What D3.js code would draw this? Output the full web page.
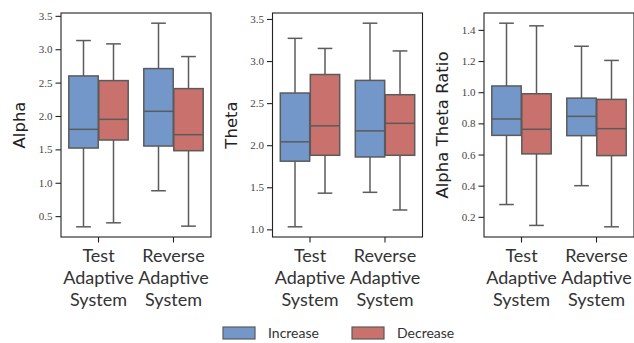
<!DOCTYPE html>
<html>
<head>
<meta charset="utf-8">
<script src="https://cdn.jsdelivr.net/npm/d3@7"></script>
<style>
  body { margin: 0; background: #fff; }
  svg { display: block; }
</style>
</head>
<body>
<div id="chart"></div>
<script>
// categories and hue levels
var groups = ["Test Adaptive System", "Reverse Adaptive System"];
var groupLines = [["Test", "Adaptive", "System"], ["Reverse", "Adaptive", "System"]];
var hues = ["Increase", "Decrease"];

// box stats per group/hue: [whisker low, q1, median, q3, whisker high]
var alphaStats = [
  [[0.34, 1.52, 1.80, 2.60, 3.13], [0.40, 1.64, 1.95, 2.53, 3.08]],
  [[0.88, 1.55, 2.07, 2.71, 3.39], [0.35, 1.48, 1.72, 2.41, 2.89]]
];
var thetaStats = [
  [[1.03, 1.81, 2.04, 2.62, 3.27], [1.43, 1.88, 2.23, 2.84, 3.15]],
  [[1.44, 1.86, 2.17, 2.77, 3.45], [1.23, 1.88, 2.26, 2.60, 3.12]]
];
var ratioStats = [
  [[0.279, 0.723, 0.828, 1.040, 1.443], [0.145, 0.604, 0.762, 0.990, 1.426]],
  [[0.400, 0.721, 0.845, 0.962, 1.295], [0.136, 0.593, 0.766, 0.954, 1.204]]
];

// tick labels
var alphaTicks = [0.5, 1.0, 1.5, 2.0, 2.5, 3.0, 3.5];
var thetaTicks = [1.0, 1.5, 2.0, 2.5, 3.0, 3.5];
var ratioTicks = [0.2, 0.4, 0.6, 0.8, 1.0, 1.2, 1.4];

var panels = [
  {label: "Alpha", stats: alphaStats, ticks: alphaTicks},
  {label: "Theta", stats: thetaStats, ticks: thetaTicks},
  {label: "Alpha Theta Ratio", stats: ratioStats, ticks: ratioTicks}
];

var W = 634, H = 343;
var top_ = 13, plotH = 224, plotW = 150, left0 = 61, step = 211.5;
var hueColors = ["#7397c9", "#c8716d"];
var lineColor = "#5b5b5b";
var sansFont = "Lato, 'Open Sans', sans-serif";

var svg = d3.select("#chart").append("svg")
  .attr("width", W)
  .attr("height", H);

panels.forEach(function(p, pi) {
  var g = svg.append("g")
    .attr("transform", "translate(" + (left0 + pi * step) + "," + top_ + ")");

  var all = [];
  p.stats.forEach(function(gr) { gr.forEach(function(s) { all = all.concat(s); }); });
  var ext = d3.extent(all), pad = (ext[1] - ext[0]) * 0.05;

  var xScale = d3.scaleBand().domain(groups).range([0, plotW]).padding(0);
  var hueScale = d3.scaleBand().domain(hues)
    .range([xScale.bandwidth() * 0.1, xScale.bandwidth() * 0.9]).padding(0);
  var yScale = d3.scaleLinear().domain([ext[0] - pad, ext[1] + pad]).range([plotH, 0]);

  var boxes = [];
  groups.forEach(function(gname, gi) {
    hues.forEach(function(h, hi) {
      var s = p.stats[gi][hi];
      boxes.push({group: gname, hue: h, hi: hi, lo: s[0], q1: s[1], med: s[2], q3: s[3], hi_: s[4]});
    });
  });

  var bw = hueScale.bandwidth() * 0.98;
  var bx = function(d) { return xScale(d.group) + hueScale(d.hue) + hueScale.bandwidth() / 2; };

  var bg = g.selectAll("g.box").data(boxes).enter().append("g").attr("class", "box");

  // whiskers
  bg.append("line")
    .attr("x1", bx).attr("x2", bx)
    .attr("y1", function(d) { return yScale(d.q3); })
    .attr("y2", function(d) { return yScale(d.hi_); })
    .style("stroke", lineColor).style("stroke-width", 1.5);
  bg.append("line")
    .attr("x1", bx).attr("x2", bx)
    .attr("y1", function(d) { return yScale(d.q1); })
    .attr("y2", function(d) { return yScale(d.lo); })
    .style("stroke", lineColor).style("stroke-width", 1.5);
  // caps
  ["lo", "hi_"].forEach(function(k) {
    bg.append("line")
      .attr("x1", function(d) { return bx(d) - bw / 4; })
      .attr("x2", function(d) { return bx(d) + bw / 4; })
      .attr("y1", function(d) { return yScale(d[k]); })
      .attr("y2", function(d) { return yScale(d[k]); })
      .style("stroke", lineColor).style("stroke-width", 1.5);
  });
  // box
  bg.append("rect")
    .attr("x", function(d) { return bx(d) - bw / 2; })
    .attr("width", bw)
    .attr("y", function(d) { return yScale(d.q3); })
    .attr("height", function(d) { return yScale(d.q1) - yScale(d.q3); })
    .style("fill", function(d) { return hueColors[d.hi]; })
    .style("stroke", lineColor).style("stroke-width", 1.5);
  // median
  bg.append("line")
    .attr("x1", function(d) { return bx(d) - bw / 2; })
    .attr("x2", function(d) { return bx(d) + bw / 2; })
    .attr("y1", function(d) { return yScale(d.med); })
    .attr("y2", function(d) { return yScale(d.med); })
    .style("stroke", lineColor).style("stroke-width", 1.5);

  // frame
  g.append("rect")
    .attr("width", plotW).attr("height", plotH)
    .style("fill", "none").style("stroke", "#222").style("stroke-width", 1.1);

  // y axis
  var yAxis = g.append("g").attr("class", "yaxis")
    .call(d3.axisLeft(yScale).tickValues(p.ticks).tickFormat(d3.format(".1f")).tickSize(5.5).tickPadding(3));
  yAxis.select("path.domain").remove();
  yAxis.selectAll(".tick line").style("stroke", "#222").style("stroke-width", 1.1);
  yAxis.selectAll(".tick text")
    .style("font-family", "'Liberation Serif', 'DejaVu Serif', serif")
    .style("font-size", "11px")
    .style("fill", "#444");

  // x axis
  var xAxis = g.append("g").attr("class", "xaxis")
    .attr("transform", "translate(0," + plotH + ")")
    .call(d3.axisBottom(xScale).tickSize(5.5).tickFormat(""));
  xAxis.select("path.domain").remove();
  xAxis.selectAll(".tick line").style("stroke", "#222").style("stroke-width", 1.1);
  xAxis.selectAll(".tick").each(function(d, i) {
    var t = d3.select(this).append("text")
      .attr("text-anchor", "middle")
      .style("font-family", sansFont)
      .style("font-size", "18px")
      .style("fill", "#333");
    groupLines[i].forEach(function(line, li) {
      t.append("tspan").attr("x", 0).attr("y", 25 + li * 22).text(line);
    });
  });

  // y label
  g.append("text")
    .attr("transform", "rotate(-90)")
    .attr("x", -plotH / 2)
    .attr("y", -36)
    .attr("text-anchor", "middle")
    .style("font-family", "'DejaVu Sans', sans-serif")
    .style("font-size", "16.5px")
    .style("fill", "#222")
    .text(p.label);
});

// legend
var legend = svg.append("g").attr("transform", "translate(223,327)");
hues.forEach(function(h, i) {
  var lg = legend.append("g").attr("transform", "translate(" + (i * 129) + ",0)");
  lg.append("rect")
    .attr("width", 32).attr("height", 12)
    .style("fill", hueColors[i]).style("stroke", lineColor).style("stroke-width", 1.2);
  lg.append("text")
    .attr("x", 45).attr("y", 11)
    .style("font-family", sansFont)
    .style("font-size", "14px")
    .style("fill", "#333")
    .text(h);
});
</script>
</body>
</html>
